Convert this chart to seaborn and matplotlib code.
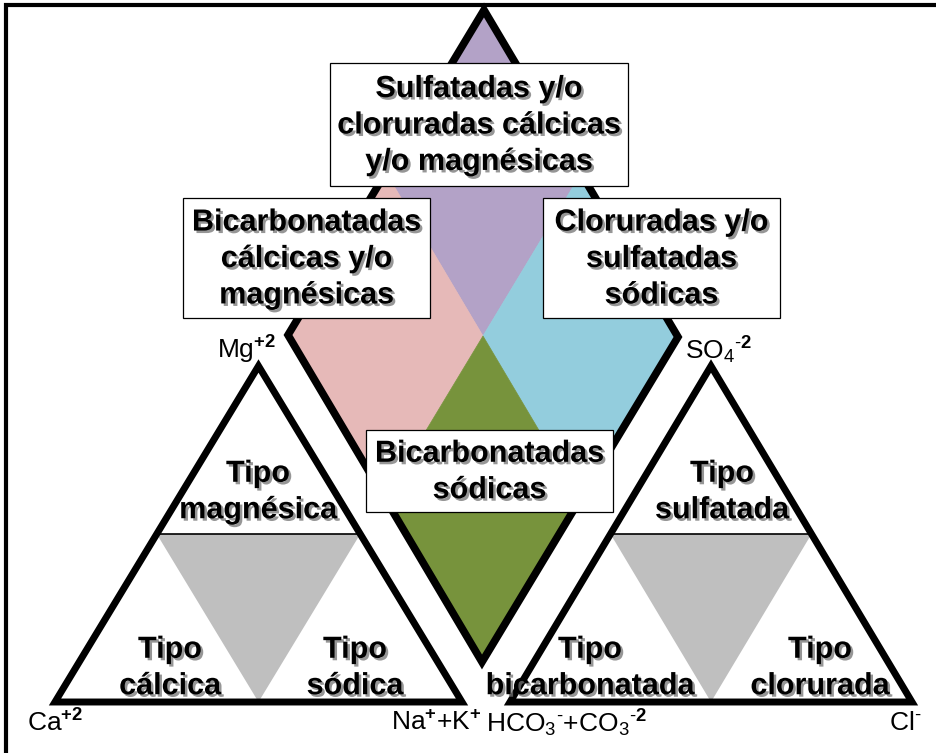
import matplotlib
matplotlib.use("Agg")
import matplotlib.pyplot as plt
import matplotlib.patheffects as pe
from matplotlib.patches import Polygon, Rectangle
import numpy as np
import seaborn as sns

# ---------------- data ----------------
diamond_labels = ["Sulfatadas y/o\ncloruradas cálcicas\ny/o magnésicas",
                  "Bicarbonatadas\ncálcicas y/o\nmagnésicas",
                  "Cloruradas y/o\nsulfatadas\nsódicas",
                  "Bicarbonatadas\nsódicas"]
diamond_colors = ["#B3A2C7", "#E6B9B8", "#93CDDD", "#77933C"]
# sub-diamond extents in diamond fractions (s range, t range)
diamond_s = [(0.5, 1.0), (0.0, 0.5), (0.5, 1.0), (0.0, 0.5)]
diamond_t = [(0.0, 0.5), (0.0, 0.5), (0.5, 1.0), (0.5, 1.0)]

cation_types = ["Tipo\nmagnésica", "Tipo\ncálcica", "Tipo\nsódica"]
anion_types = ["Tipo\nsulfatada", "Tipo\nbicarbonatada", "Tipo\nclorurada"]
cation_vertices = [r"Ca$^{\mathbf{+2}}$", r"Mg$^{\mathbf{+2}}$",
                   r"Na$^{\mathbf{+}}$+K$^{\mathbf{+}}$"]
anion_vertices = [r"HCO$_{\text{3}}$$^{\text{-}}$+CO$_{\text{3}}$$^{\text{-}\mathbf{2}}$",
                  r"SO$_{\text{4}}$$^{\text{-}\mathbf{2}}$", r"Cl$^{\text{-}}$"]
middle_color = "#BFBFBF"

# ---------------- style ----------------
sns.set_theme(style="white")
plt.rcParams["font.family"] = ["Liberation Sans", "DejaVu Sans"]
plt.rcParams["mathtext.fontset"] = "custom"
plt.rcParams["mathtext.rm"] = "Liberation Sans"
plt.rcParams["mathtext.it"] = "Liberation Sans"
plt.rcParams["mathtext.bf"] = "Liberation Sans:bold"

fig = plt.figure(figsize=(9.36, 7.53), dpi=100)
ax = fig.add_axes([0, 0, 1, 1])
ax.set_xlim(0, 936)
ax.set_ylim(753, 0)
ax.axis("off")

# frame
ax.plot([6, 6, 936], [753, 5, 5], color="black", lw=3, solid_joinstyle="miter", zorder=1)

# ---------------- diamond ----------------
L = np.array([288.0, 335.0]); T = np.array([484.0, 10.0]); B = np.array([482.0, 662.0])
def dpt(s, t):
    return L + s * (T - L) + t * (B - L)

for (s0, s1), (t0, t1), c in zip(diamond_s, diamond_t, diamond_colors):
    pts = [dpt(s0, t0), dpt(s1, t0), dpt(s1, t1), dpt(s0, t1)]
    ax.add_patch(Polygon(pts, closed=True, facecolor=c, edgecolor=c, lw=0.5, zorder=2))
outline = [dpt(0, 0), dpt(1, 0), dpt(1, 1), dpt(0, 1)]
ax.add_patch(Polygon(outline, closed=True, facecolor="none", edgecolor="black",
                     lw=5.5, joinstyle="miter", zorder=3))

# ---------------- triangles ----------------
def tri_pt(x0, base, side, h, a, b):
    return np.array([x0 + side * (a + b / 2.0), base - h * b])

def draw_triangle(x0, base, side, h):
    mid = [tri_pt(x0, base, side, h, 0, 0.5), tri_pt(x0, base, side, h, 0.5, 0.5),
           tri_pt(x0, base, side, h, 0.5, 0)]
    ax.add_patch(Polygon(mid, closed=True, facecolor=middle_color, edgecolor="none", zorder=4))
    ax.plot([mid[0][0], mid[1][0]], [mid[0][1], mid[1][1]], color="black", lw=1.2, zorder=5)
    corners = [tri_pt(x0, base, side, h, 0, 0), tri_pt(x0, base, side, h, 1, 0),
               tri_pt(x0, base, side, h, 0, 1)]
    ax.add_patch(Polygon(corners, closed=True, facecolor="none", edgecolor="black",
                         lw=5, joinstyle="miter", zorder=6))

base_y, tri_h = 702.0, 336.0
cat_x0, cat_side = 55.0, 407.0
an_x0, an_side = 510.0, 402.0
draw_triangle(cat_x0, base_y, cat_side, tri_h)
draw_triangle(an_x0, base_y, an_side, tri_h)

# ---------------- text ----------------
shadow = [pe.withSimplePatchShadow(offset=(1.8, -1.8), shadow_rgbFace="0.45", alpha=0.75)]
bold_kw = dict(fontsize=22, fontweight="bold", ha="center", va="center",
               linespacing=1.28, path_effects=shadow, zorder=10, color="black")

box_extents = [(330, 63, 628, 186), (183, 198, 430, 318), (543, 198, 780, 318), (366, 430, 613, 512)]
for lab, (bx0, by0, bx1, by1) in zip(diamond_labels, box_extents):
    ax.add_patch(Rectangle((bx0, by0), bx1 - bx0, by1 - by0, facecolor="white",
                           edgecolor="black", lw=0.9, zorder=8))
    ax.text((bx0 + bx1) / 2, (by0 + by1) / 2 + 1, lab, **bold_kw)

cat_pos = [(258, 492), (170, 668), (355, 668)]
an_pos = [(722, 492), (590, 668), (820, 668)]
for lab, (x, y) in zip(cation_types + anion_types, cat_pos + an_pos):
    ax.text(x, y, lab, **bold_kw)

vkw = dict(fontsize=19, va="center", color="black", zorder=10)
ax.text(27, 723, cation_vertices[0], ha="left", **vkw)
ax.text(247, 350, cation_vertices[1], ha="center", **vkw)
ax.text(482, 723, cation_vertices[2], ha="right", **vkw)
ax.text(486, 723, anion_vertices[0], ha="left", **vkw)
ax.text(719, 350, anion_vertices[1], ha="center", **vkw)
ax.text(889, 723, anion_vertices[2], ha="left", **vkw)

fig.savefig("out.png", dpi=100)
